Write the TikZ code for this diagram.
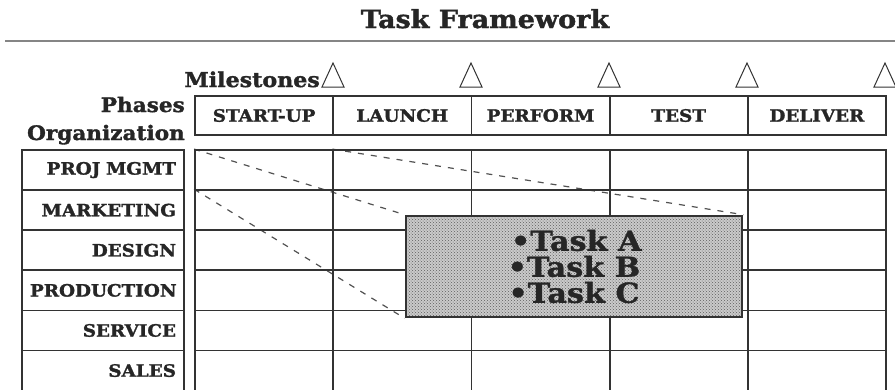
\documentclass[tikz,border=0pt]{standalone}
\usepackage{fontspec}
\setmainfont{DejaVu Serif}
\newfontfamily\headfont[FakeStretch=1.2,FakeBold=1.6]{DejaVu Serif Condensed Bold}
\newfontfamily\taskfont[FakeStretch=1.1,FakeBold=1.2]{DejaVu Serif Bold}
\usepackage{tikz}
\usetikzlibrary{patterns,backgrounds}
\usepackage{xcolor}

\definecolor{ink}{HTML}{262626}
\definecolor{gridline}{HTML}{333333}
\definecolor{rulegray}{HTML}{858585}
\definecolor{taskfill}{HTML}{CACACA}
\definecolor{taskdot}{HTML}{5E5E5E}

\begin{document}
\begin{tikzpicture}[
      x=1pt, y=-1pt,
      cell/.style={draw=gridline, line width=1.8pt, minimum width=138.2pt, minimum height=40.1pt, inner sep=0pt},
      phase/.style={cell, minimum height=39pt, text=ink, font=\headfont\fontsize{17}{17}\selectfont},
      orgcell/.style={draw=gridline, line width=1.8pt, minimum height=40.1pt, text width=146pt, inner xsep=8pt,
        align=right, text=ink, font=\headfont\fontsize{17}{17}\selectfont},
      caption/.style={text=ink, inner sep=0pt, font=\headfont\fontsize{20}{20}\selectfont},
      milestone/.style={draw=gridline, line width=1pt, line join=miter},
      link/.style={draw=gridline!85, line width=1.2pt, dash pattern=on 6pt off 7pt},
      taskbox/.style={draw=gridline, line width=2.6pt, preaction={fill=taskfill}, pattern=crosshatch dots,
        pattern color=taskdot, minimum width=336pt, minimum height=101pt, align=center, text=ink,
        font=\taskfont\fontsize{27.5}{26}\selectfont}
    ]
    \clip (0,0) rectangle (895,389);
    % title and rule
    \node[caption, anchor=base, font=\headfont\fontsize{25}{25}\selectfont] (title) at (485,28) {Task Framework};
    \coordinate (ruleL) at (5,41);
    \coordinate (ruleR) at (895,41);
    \draw[rulegray, line width=2pt] (ruleL) -- (ruleR);
    % axis captions
    \node[caption, anchor=base east, font=\headfont\fontsize{20.5}{20.5}\selectfont] (miles) at (320,87) {Milestones};
    \node[caption, anchor=base east] (phases) at (185,112) {Phases};
    \node[caption, anchor=base east] (orgs) at (185,140) {Organization};
    % milestone markers on the phase boundaries
    \foreach \x in {333,471,609,747,885}
      \draw[milestone] (\x-11,87) -- (\x,63) -- (\x+11,87) -- cycle;
    % phase header
    \foreach \name [count=\c] in {START-UP, LAUNCH, PERFORM, TEST, DELIVER}
      \node[phase] (ph\c) at ({195+138.2*(\c-0.5)},115.5) {\name};
    % organization column
    \foreach \name [count=\r] in {PROJ MGMT, MARKETING, DESIGN, PRODUCTION, SERVICE, SALES}
      \node[orgcell] (org\r) at (103,{150+40.1*(\r-0.5)}) {\name};
    % grid
    \foreach \r in {1,...,6}
      \foreach \c in {1,...,5}
        \node[cell] (c-\r-\c) at ({195+138.2*(\c-0.5)},{150+40.1*(\r-0.5)}) {};
    % task box
    \node[taskbox] (task) at (574,266.5) {\,•Task A\\ •Task B\\ •Task C};
    \begin{scope}[on background layer]
      \draw[link] (c-1-1.north west) -- (task.north west);
      \draw[link] (c-2-1.north west) -- (task.south west);
      \draw[link] (c-1-2.north west) -- (task.north east);
    \end{scope}
  \end{tikzpicture}
\end{document}
